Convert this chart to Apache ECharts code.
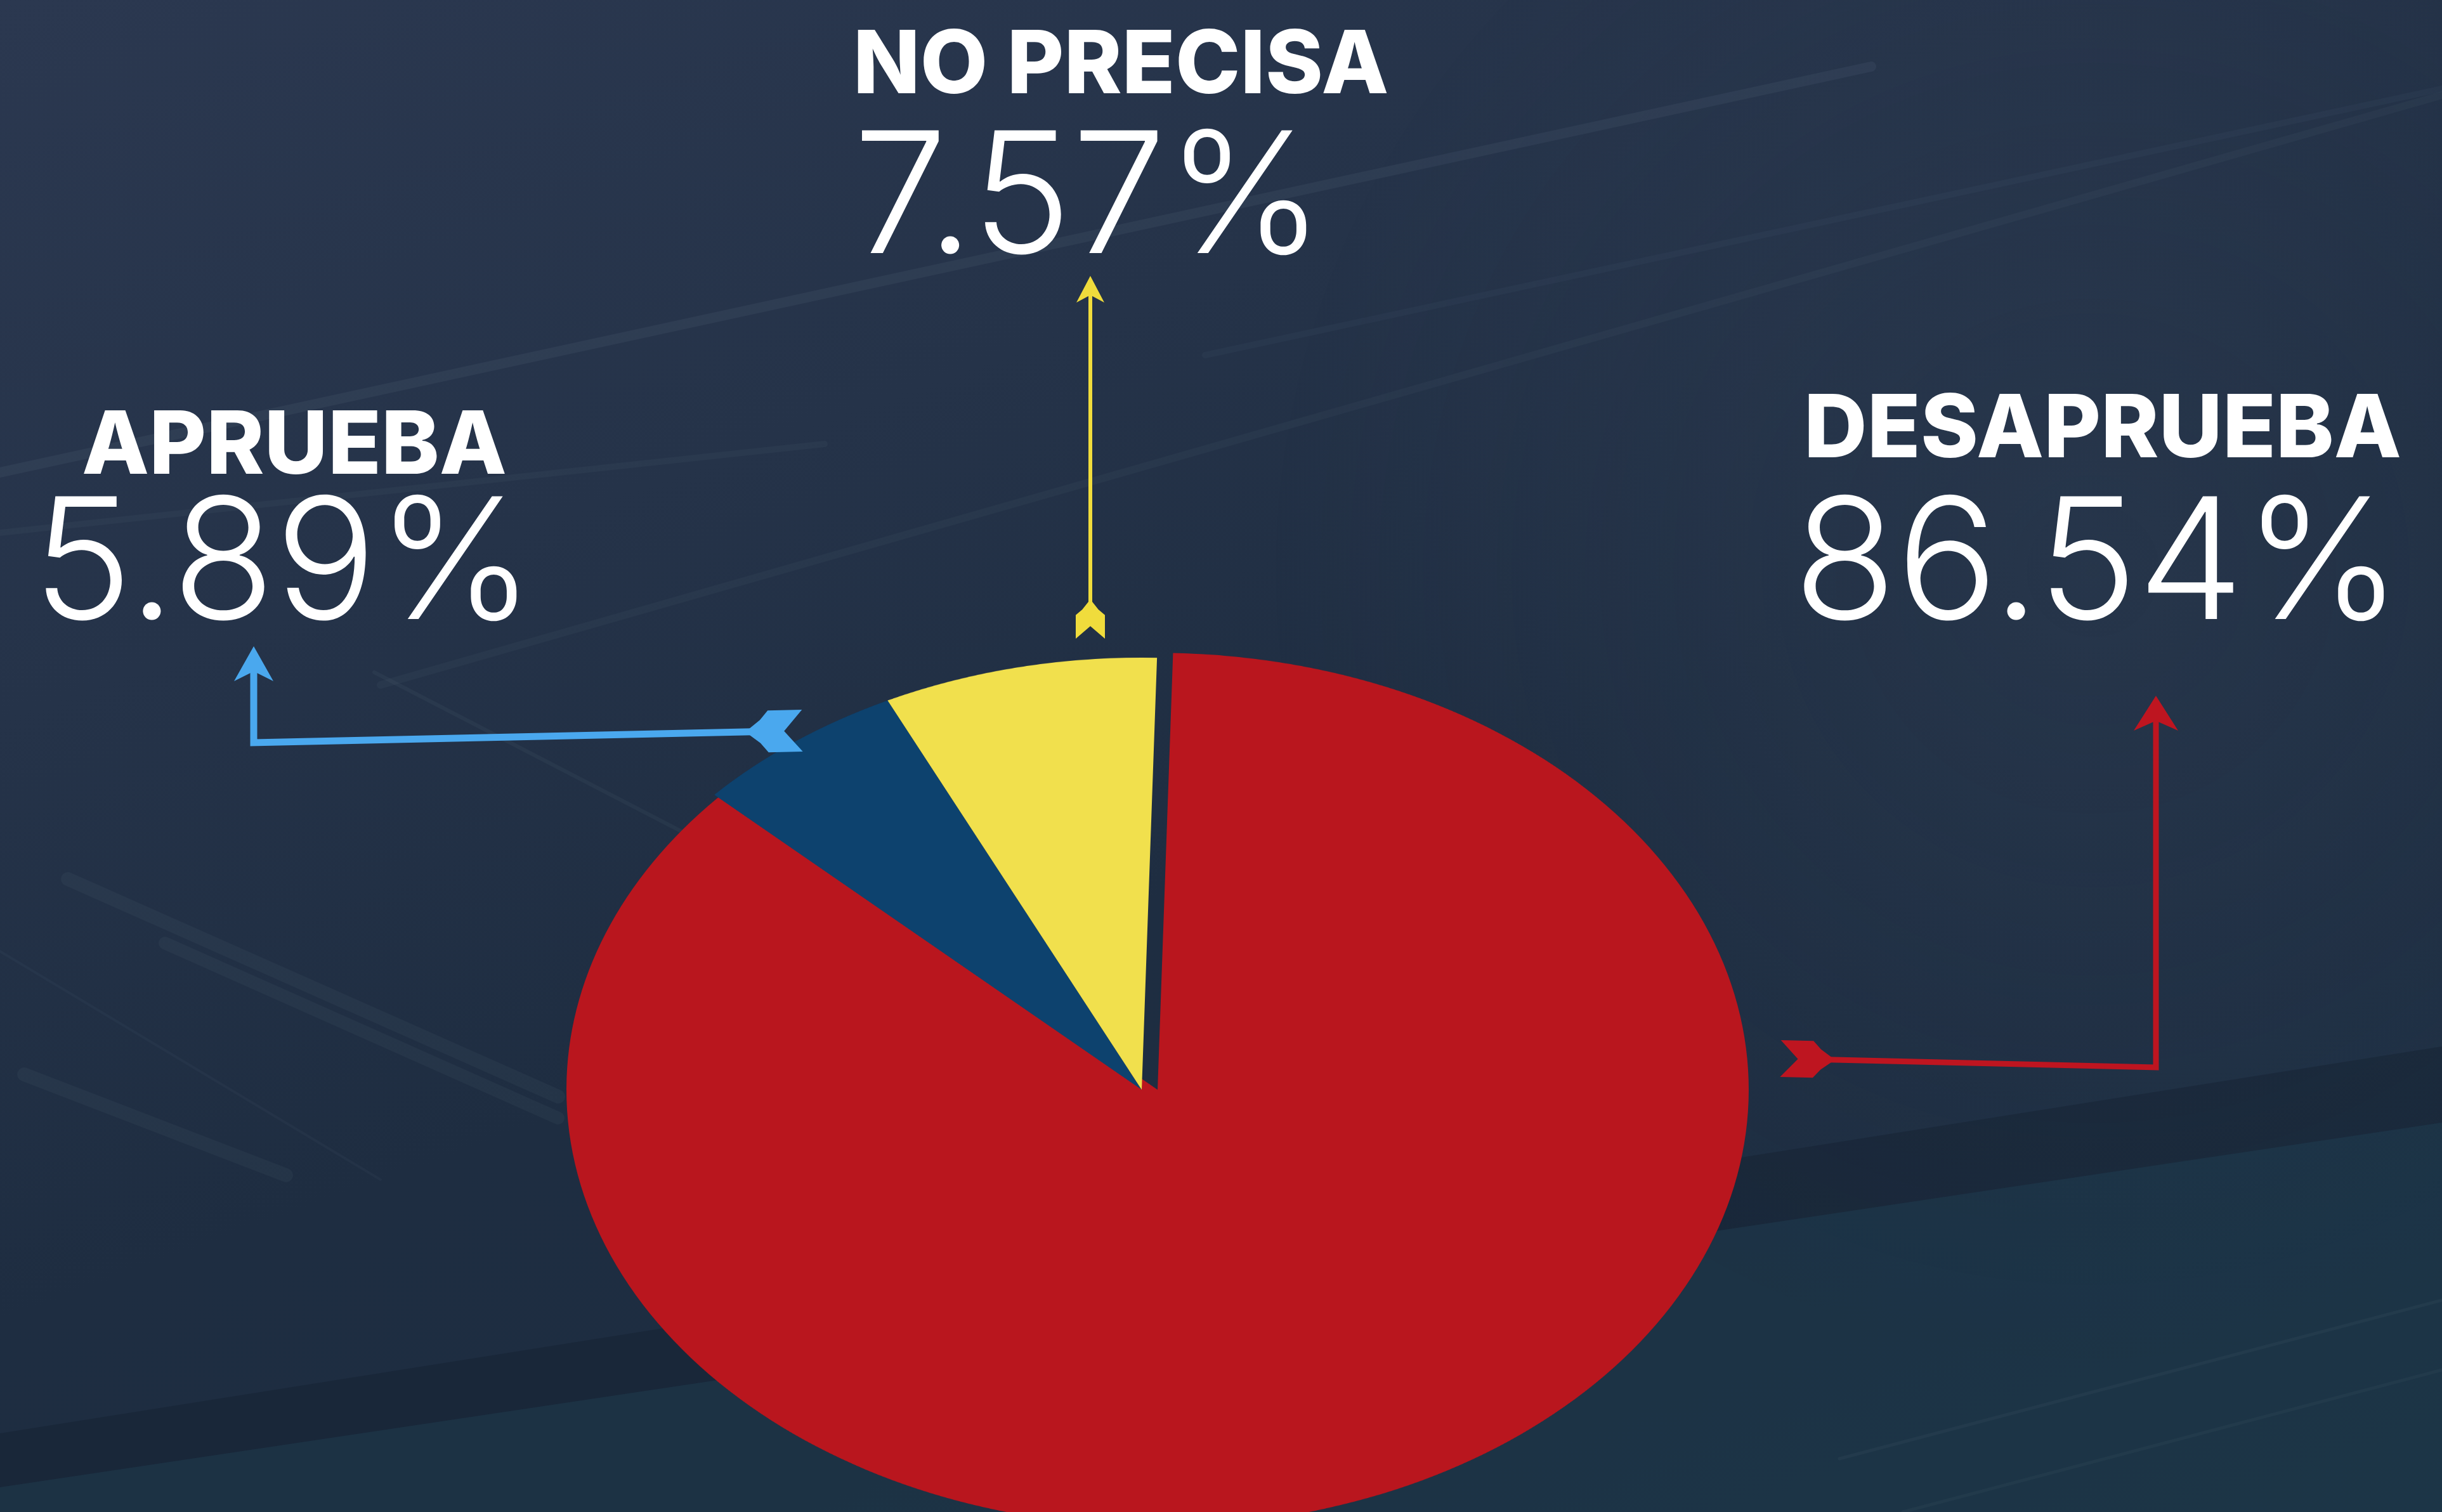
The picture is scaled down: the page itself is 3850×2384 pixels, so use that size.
<!DOCTYPE html>
<html>
<head>
<meta charset="utf-8">
<script src="https://cdn.jsdelivr.net/npm/echarts@6/dist/echarts.min.js"></script>
<style>
  html, body { margin: 0; padding: 0; width: 3850px; height: 2384px; overflow: hidden; }
  body { background: linear-gradient(160deg, #2b3850 0%, #253349 30%, #1e2d41 55%, #1d2d41 75%, #1e3447 100%); position: relative; }
  .layer { position: absolute; left: 0; top: 0; width: 3850px; height: 2384px; }
  #pie { height: 3300px; transform: scaleY(0.739); transform-origin: 0 0; }
</style>
</head>
<body>
<div id="bg" class="layer"></div>
<div id="pie" class="layer"></div>
<div id="labels" class="layer"></div>
<script>
// datos de la encuesta
const categories = ['DESAPRUEBA', 'APRUEBA', 'NO PRECISA'];
const values = [86.54, 5.89, 7.57];

const sliceColors = ['#b9161e', '#0d426e', '#f1e04d'];
const arrowColors = ['#be1520', '#4aa8ee', '#f0dc3c'];

// posiciones de textos y flechas (px de pantalla)
const labelLayout = [
  { nameX: 3315, valueX: 3307, align: 'center', nameY: 680, valueY: 896,
    arrow: [[2807, 1669], [3399, 1683], [3399, 1097]], lw: 9, head: [55, 70], tail: [86, 29] },
  { nameX: 464, valueX: 447, align: 'center', nameY: 706, valueY: 896,
    arrow: [[1265, 1152], [400, 1171], [400, 1019]], lw: 11, head: [55, 62], tail: [90, 33] },
  { nameX: 1345, valueX: 1345, align: 'left', nameY: 106, valueY: 319,
    arrow: [[1719, 1007], [1719, 435]], lw: 6, head: [42, 44], tail: [62, 23] }
];

// ---- fondo ----
const bgChart = echarts.init(document.getElementById('bg'));
const streak = (x1, y1, x2, y2, w, a) => ({
  type: 'line', silent: true,
  shape: { x1: x1, y1: y1, x2: x2, y2: y2 },
  style: { stroke: 'rgba(200,220,240,' + a + ')', lineWidth: w, lineCap: 'round' }
});
bgChart.setOption({
  graphic: [
    { type: 'circle', silent: true, shape: { cx: 3300, cy: 900, r: 1300 },
      style: { fill: { type: 'radial', x: 0.5, y: 0.5, r: 0.5,
        colorStops: [{ offset: 0, color: 'rgba(70,85,110,0.22)' }, { offset: 1, color: 'rgba(70,85,110,0)' }] } } },
    { type: 'polygon', silent: true, shape: { points: [[0, 2260], [3850, 1650], [3850, 2384], [0, 2384]] },
      style: { fill: 'rgba(15,28,40,0.3)' } },
    { type: 'polygon', silent: true, shape: { points: [[0, 2345], [3850, 1770], [3850, 2384], [0, 2384]] },
      style: { fill: 'rgba(34,72,92,0.35)' } },
    streak(0, 745, 2950, 105, 16, 0.055),
    streak(0, 840, 1300, 700, 10, 0.035),
    streak(600, 1080, 3850, 150, 12, 0.035),
    streak(1900, 560, 3850, 140, 10, 0.03),
    streak(107, 1386, 880, 1729, 22, 0.04),
    streak(260, 1487, 880, 1763, 20, 0.04),
    streak(38, 1694, 451, 1853, 22, 0.04),
    streak(0, 1500, 600, 1860, 4, 0.03),
    streak(590, 1060, 1150, 1350, 6, 0.04),
    streak(2900, 2300, 3850, 2050, 5, 0.04),
    streak(3000, 2384, 3850, 2160, 5, 0.035)
  ]
});

// ---- torta (se aplana con CSS para verla en perspectiva) ----
const pieChart = echarts.init(document.getElementById('pie'));
function pieSeries(cx, r, visible) {
  return {
    type: 'pie',
    center: [cx, 2325],
    radius: r,
    startAngle: 88.5,
    clockwise: true,
    silent: true,
    animation: false,
    label: { show: false },
    labelLine: { show: false },
    data: categories.map((c, i) => ({
      name: c,
      value: values[i],
      itemStyle: { color: visible.indexOf(i) >= 0 ? sliceColors[i] : 'rgba(0,0,0,0)', borderWidth: 0 }
    }))
  };
}
pieChart.setOption({
  animation: false,
  series: [
    pieSeries(1825, 932, [0]),
    pieSeries(1800, 922, [1, 2])
  ]
});

// ---- etiquetas y flechas ----
const labelChart = echarts.init(document.getElementById('labels'));
function norm(a, b) {
  const dx = b[0] - a[0], dy = b[1] - a[1], l = Math.hypot(dx, dy);
  return [dx / l, dy / l];
}
function local(o, d, u, v) {
  // u a lo largo de d, v perpendicular
  return [o[0] + d[0] * u - d[1] * v, o[1] + d[1] * u + d[0] * v];
}
function arrow(cfg, color) {
  const pts = cfg.arrow, n = pts.length;
  const dEnd = norm(pts[n - 2], pts[n - 1]);
  const dStart = norm(pts[0], pts[1]);
  const [hl, hw] = cfg.head, [tl, th] = cfg.tail;
  const linePts = pts.map(p => p.slice());
  linePts[0] = local(pts[0], dStart, tl * 0.5, 0);
  linePts[n - 1] = local(pts[n - 1], dEnd, -hl * 0.5, 0);
  const T = pts[n - 1], S = pts[0];
  return [
    { type: 'polyline', silent: true, shape: { points: linePts },
      style: { stroke: color, lineWidth: cfg.lw, lineJoin: 'miter', fill: null } },
    { type: 'polygon', silent: true, shape: { points: [
        T, local(T, dEnd, -hl, hw / 2), local(T, dEnd, -hl * 0.72, 0), local(T, dEnd, -hl, -hw / 2)
      ] }, style: { fill: color } },
    { type: 'polygon', silent: true, shape: { points: [
        local(S, dStart, 0, th), local(S, dStart, tl * 0.32, 0), local(S, dStart, 0, -th),
        local(S, dStart, tl * 0.6, -th), local(S, dStart, tl * 0.74, -th * 0.55),
        local(S, dStart, tl, 0),
        local(S, dStart, tl * 0.74, th * 0.55), local(S, dStart, tl * 0.6, th)
      ] }, style: { fill: color } }
  ];
}
const graphics = [];
categories.forEach((c, i) => {
  const L = labelLayout[i];
  graphics.push(...arrow(L, arrowColors[i]));
  graphics.push({
    type: 'text', silent: true, x: L.nameX, y: L.nameY,
    style: { text: c, fill: '#ffffff', fontFamily: 'Inter', fontWeight: 800, fontSize: 138,
      align: L.align, verticalAlign: 'middle' }
  });
  graphics.push({
    type: 'text', silent: true, x: L.valueX, y: L.valueY,
    style: { text: values[i].toFixed(2) + '%', fill: '#ffffff', fontFamily: 'Inter', fontWeight: 300, fontSize: 266,
      align: L.align, verticalAlign: 'middle' }
  });
});
labelChart.setOption({ animation: false, graphic: graphics });
</script>
</body>
</html>
